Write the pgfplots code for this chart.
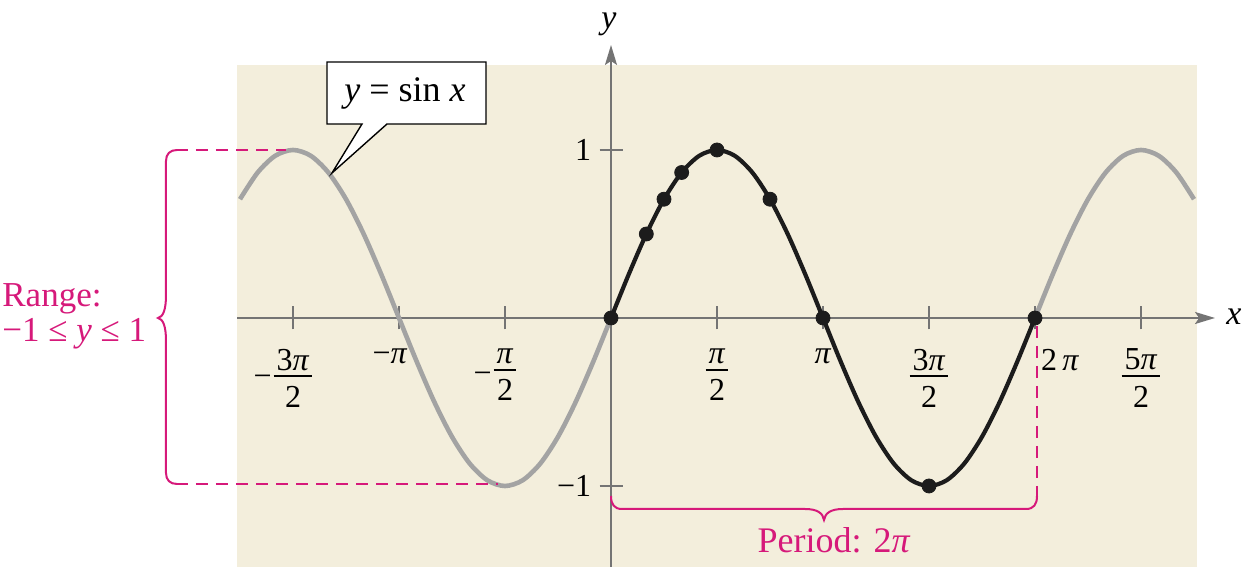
\documentclass[border=0pt]{standalone}
\usepackage{amsmath}
\usepackage{fontspec}
\setmainfont{LiberationSerif}[Extension=.ttf, UprightFont=*-Regular, ItalicFont=*-Italic, BoldFont=*-Bold, BoldItalicFont=*-BoldItalic]
\usepackage{pgfplots}
\pgfplotsset{compat=1.18}
\usetikzlibrary{arrows.meta}
\definecolor{beige}{HTML}{F3EEDC}
\definecolor{mag}{HTML}{D6197A}
\definecolor{axgray}{HTML}{747474}
\definecolor{curvegray}{HTML}{A3A3A3}
\definecolor{curveblack}{HTML}{1C1C1C}
\newcommand{\tfs}{\fontsize{16}{19}\selectfont}
\newcommand{\fr}[2]{$\vcenter{\halign{\hfil\kern1.5pt##\kern1.5pt\hfil\cr #1\cr\noalign{\kern2.5pt\hrule height 0.9pt\kern4.5pt}#2\cr}}$}
\begin{document}
\begin{tikzpicture}
\begin{axis}[
  x=33.7408pt, y=84pt,
  xmin=-5.535, xmax=8.684, ymin=-1.482, ymax=1.506,
  axis lines=middle,
  axis background/.style={fill=beige},
  axis line style={axgray, line width=1pt},
  x axis line style={-{Stealth[length=10pt,width=6pt,inset=2pt]}, shorten >=-9pt},
  y axis line style={-{Stealth[length=10pt,width=6pt,inset=2pt]}, shorten >=-10pt},
  xtick={-4.7124,-3.1416,-1.5708,1.5708,3.1416,4.7124,6.2832,7.8540},
  xticklabels={
    {\llap{−\kern1pt}\fr{3\textit{π}}{2}},
    {\llap{−}\textit{π}},
    {\llap{−\kern1pt}\fr{\textit{π}}{2}},
    {\fr{\textit{π}}{2}},
    {\textit{π}},
    {\fr{3\textit{π}}{2}},
    {\makebox[0pt][l]{\hspace{3pt}2\,\textit{π}}},
    {\fr{5\textit{π}}{2}}},
  ytick={-1,1},
  yticklabels={{−1},{1}},
  tick align=center,
  major tick length=11.5pt,
  tick style={axgray, line width=1pt},
  every tick label/.append style={font=\tfs, text=black},
  xticklabel style={anchor=north, inner sep=0pt, yshift=-9.5pt},
  yticklabel style={anchor=east, inner sep=0pt, xshift=-4pt},
  clip=false,
  enlargelimits=false,
]
% gray curve, left part
\addplot[curvegray, line width=2.3pt, smooth] coordinates {
(-5.4978,0.7071) (-5.2360,0.8660) (-4.9742,0.9659) (-4.7124,1) (-4.4506,0.9659)
(-4.1888,0.8660) (-3.9270,0.7071) (-3.6652,0.5) (-3.4034,0.2588) (-3.1416,0)
(-2.8798,-0.2588) (-2.6180,-0.5) (-2.3562,-0.7071) (-2.0944,-0.8660) (-1.8326,-0.9659)
(-1.5708,-1) (-1.3090,-0.9659) (-1.0472,-0.8660) (-0.7854,-0.7071) (-0.5236,-0.5)
(-0.2618,-0.2588) (0,0)};
% gray curve, right part
\addplot[curvegray, line width=2.3pt, smooth] coordinates {
(6.2832,0) (6.5450,0.2588) (6.8068,0.5) (7.0686,0.7071) (7.3304,0.8660)
(7.5922,0.9659) (7.8540,1) (8.1158,0.9659) (8.3776,0.8660) (8.6394,0.7071)};
% black curve, one period
\addplot[curveblack, line width=2.1pt, smooth] coordinates {
(0,0) (0.2618,0.2588) (0.5236,0.5) (0.7854,0.7071) (1.0472,0.8660) (1.3090,0.9659)
(1.5708,1) (1.8326,0.9659) (2.0944,0.8660) (2.3562,0.7071) (2.6180,0.5) (2.8798,0.2588)
(3.1416,0) (3.4034,-0.2588) (3.6652,-0.5) (3.9270,-0.7071) (4.1888,-0.8660) (4.4506,-0.9659)
(4.7124,-1) (4.9742,-0.9659) (5.2360,-0.8660) (5.4978,-0.7071) (5.7596,-0.5) (6.0214,-0.2588)
(6.2832,0)};
% points
\addplot[only marks, mark=*, mark size=3.5pt, curveblack] coordinates {
(0,0) (0.5236,0.5) (0.7854,0.7071) (1.0472,0.8660) (1.5708,1) (2.3562,0.7071)
(3.1416,0) (4.7124,-1) (6.2832,0)};
\coordinate (O) at (axis cs:0,0);
\end{axis}
\pgfresetboundingbox
\begin{scope}[shift={(O)}, shift={(-305.5pt,159pt)}, x=0.5pt, y=-0.5pt]
\useasboundingbox (0,0) rectangle (1252,582);
% axis labels
\node[anchor=base west, inner sep=0pt, font=\fontsize{17}{20}\selectfont] at (1226,325) {\textit{x}};
\node[anchor=base, inner sep=0pt, font=\fontsize{17}{20}\selectfont] at (609,29) {\textit{y}};
% callout
\draw[black, line width=0.7pt, fill=white, line join=miter]
  (327,62) -- (486,62) -- (486,124) -- (387,124) -- (332,173) -- (362,124) -- (327,124) -- cycle;
\node[anchor=base, inner sep=0pt, font=\fontsize{18}{22}\selectfont] at (405,102) {\textit{y} = sin \textit{x}};
% range brace
\draw[mag, line width=1pt, dash pattern=on 6pt off 4pt] (176,150) -- (286,150);
\draw[mag, line width=1pt, dash pattern=on 6pt off 4pt] (176,484) -- (498,484);
\draw[mag, line width=1pt]
  (177,150) .. controls (170,150) and (166,154) .. (166,161) -- (166,295)
  .. controls (166,310) and (163,317) .. (158,318)
  .. controls (163,319) and (166,326) .. (166,341) -- (166,473)
  .. controls (166,480) and (170,484) .. (177,484);
% period brace
\draw[mag, line width=1pt, dash pattern=on 6pt off 4pt] (1037,326) -- (1037,496);
\draw[mag, line width=1pt]
  (611,496) .. controls (611,504) and (614,509) .. (622,509) -- (805,509)
  .. controls (817,509) and (823,513) .. (824,520)
  .. controls (825,513) and (831,509) .. (843,509) -- (1026,509)
  .. controls (1034,509) and (1037,504) .. (1037,496);
% texts
\node[anchor=base, inner sep=0pt, text=mag, font=\fontsize{18}{22}\selectfont] at (834,553) {Period: 2\textit{π}};
\node[anchor=base west, inner sep=0pt, text=mag, font=\fontsize{17.5}{21}\selectfont] at (2,307) {Range:};
\node[anchor=base west, inner sep=0pt, text=mag, font=\fontsize{17.5}{21}\selectfont] at (2,342) {−1 ≤ \textit{y} ≤ 1};
\end{scope}
\end{tikzpicture}
\end{document}
